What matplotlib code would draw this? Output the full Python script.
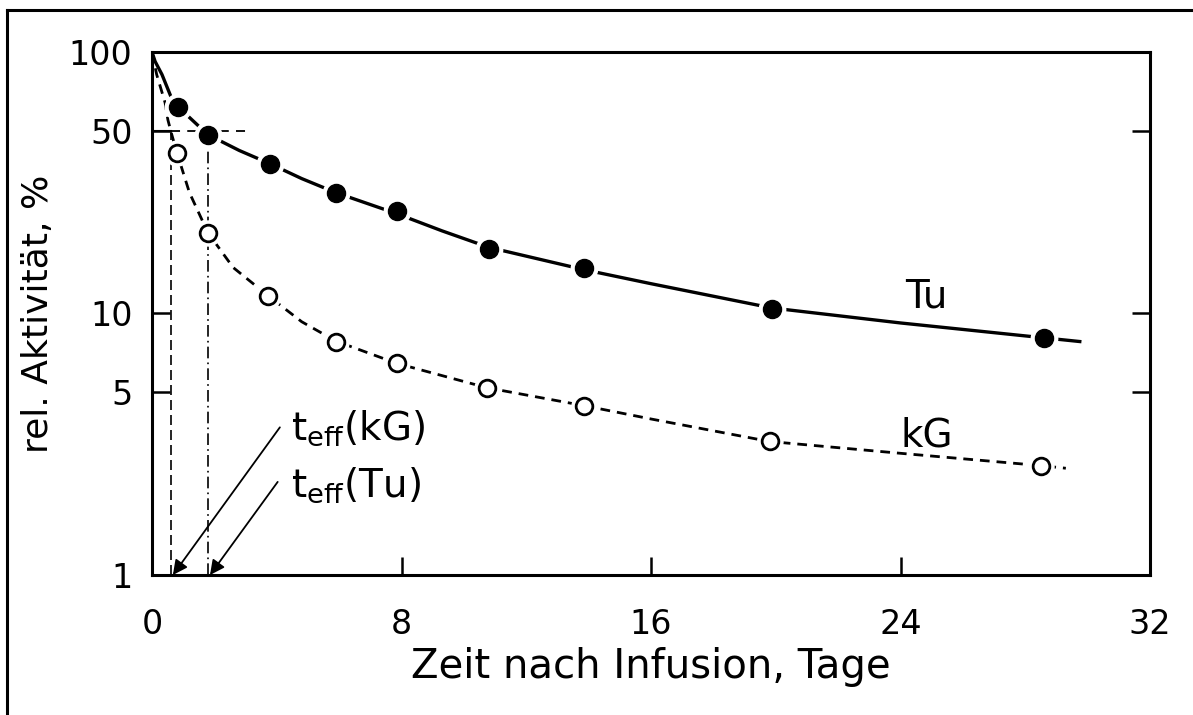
import matplotlib
matplotlib.use('Agg')
import matplotlib.pyplot as plt
from matplotlib.lines import Line2D

plt.rcParams['font.family'] = ['DejaVu Sans']

# measured points
tu_days = [0.83, 1.79, 3.78, 5.89, 7.84, 10.8, 13.86, 19.87, 28.6]
tu_act = [61.8, 48.3, 37.4, 28.8, 24.6, 17.6, 14.9, 10.4, 8.07]
kg_days = [0.8, 1.79, 3.72, 5.89, 7.84, 10.74, 13.86, 19.8, 28.5]
kg_act = [41.2, 20.4, 11.7, 7.79, 6.48, 5.2, 4.44, 3.24, 2.62]

# fitted curves
tu_curve_x = [0, 0.1, 0.32, 0.64, 0.83, 1.79, 2.8, 3.78, 4.8, 5.89, 7.84, 9.3, 10.8, 13.86, 16.0, 19.87, 24.0, 28.6, 29.8]
tu_curve_y = [100, 92, 82, 66, 61.8, 48.3, 42.0, 37.4, 32.8, 29.0, 24.1, 20.7, 17.9, 14.7, 13.0, 10.5, 9.2, 8.07, 7.8]
kg_curve_x = [0, 0.15, 0.42, 0.51, 0.62, 0.8, 1.2, 1.79, 2.6, 3.72, 4.8, 5.89, 7.84, 10.74, 13.86, 16.0, 19.8, 24.0, 28.5, 29.3]
kg_curve_y = [100, 82, 64, 55, 49, 41.2, 29, 20.4, 15.0, 11.7, 9.3, 7.85, 6.45, 5.2, 4.44, 3.95, 3.24, 2.92, 2.62, 2.56]

teff_kg = 0.62
teff_tu = 1.79

fig = plt.figure(figsize=(11.93, 7.15), dpi=100)
ax = fig.add_axes([0.1274, 0.1958, 0.8366, 0.7315])

ax.plot(tu_curve_x, tu_curve_y, color='black', lw=2.4, solid_capstyle='butt')
ax.plot(kg_curve_x, kg_curve_y, color='black', lw=2.0, ls=(0, (3.5, 2.5)))

# white halo so the lines stop short of the markers
ax.plot(tu_days, tu_act, 'o', ms=19, color='white', zorder=3)
ax.plot(kg_days, kg_act, 'o', ms=18, color='white', zorder=3)
ax.plot(tu_days, tu_act, 'o', ms=13, color='black', zorder=4)
ax.plot(kg_days, kg_act, 'o', ms=12, mfc='white', mec='black', mew=2, zorder=4)

# half-value construction lines
ax.plot([0, teff_kg], [50, 50], color='black', lw=1.5)
ax.plot([teff_kg, 3.0], [50, 50], color='black', lw=1.3, ls=(0, (5, 4)))
ax.plot([teff_kg, teff_kg], [1, 50], color='black', lw=1.2, ls=(0, (6, 3)))
ax.plot([teff_tu, teff_tu], [1, 50], color='black', lw=1.2, ls=(0, (7, 2.5, 1, 2.5)))

arrow = dict(arrowstyle='-|>', color='black', lw=1.3, mutation_scale=22, shrinkA=0, shrinkB=0)
ax.annotate('', xy=(teff_kg + 0.05, 1.0), xytext=(4.1, 3.67), arrowprops=arrow)
ax.annotate('', xy=(teff_tu + 0.07, 1.0), xytext=(4.03, 2.27), arrowprops=arrow)
ax.text(4.45, 3.63, r'$\mathregular{t_{eff}(kG)}$', fontsize=28, va='center', ha='left')
ax.text(4.45, 2.2, r'$\mathregular{t_{eff}(Tu)}$', fontsize=28, va='center', ha='left')

ax.text(24.83, 11.66, 'Tu', fontsize=28, ha='center', va='center')
ax.text(24.83, 3.41, 'kG', fontsize=28, ha='center', va='center')

ax.set_yscale('log')
ax.set_xlim(0, 32)
ax.set_ylim(1, 100)
ax.set_xticks([0, 8, 16, 24, 32])
ax.set_yticks([1, 5, 10, 50, 100])
ax.set_yticklabels(['1', '5', '10', '50', '100'])
ax.minorticks_off()
ax.tick_params(direction='in', length=13, width=1.8, labelsize=24, pad=24, right=True, labelright=False)
ax.tick_params(axis='y', pad=14)
for s in ax.spines.values():
    s.set_linewidth(2.2)

ax.set_xlabel('Zeit nach Infusion, Tage', fontsize=29, labelpad=4)
ax.set_ylabel('rel. Aktivität, %', fontsize=26, labelpad=10)

# scanned page frame (left and top edge)
fig.add_artist(Line2D([0.006, 0.006], [0.0, 0.986], color='black', lw=2.2))
fig.add_artist(Line2D([0.006, 1.0], [0.986, 0.986], color='black', lw=2.2))

fig.savefig('out.png', dpi=100)
